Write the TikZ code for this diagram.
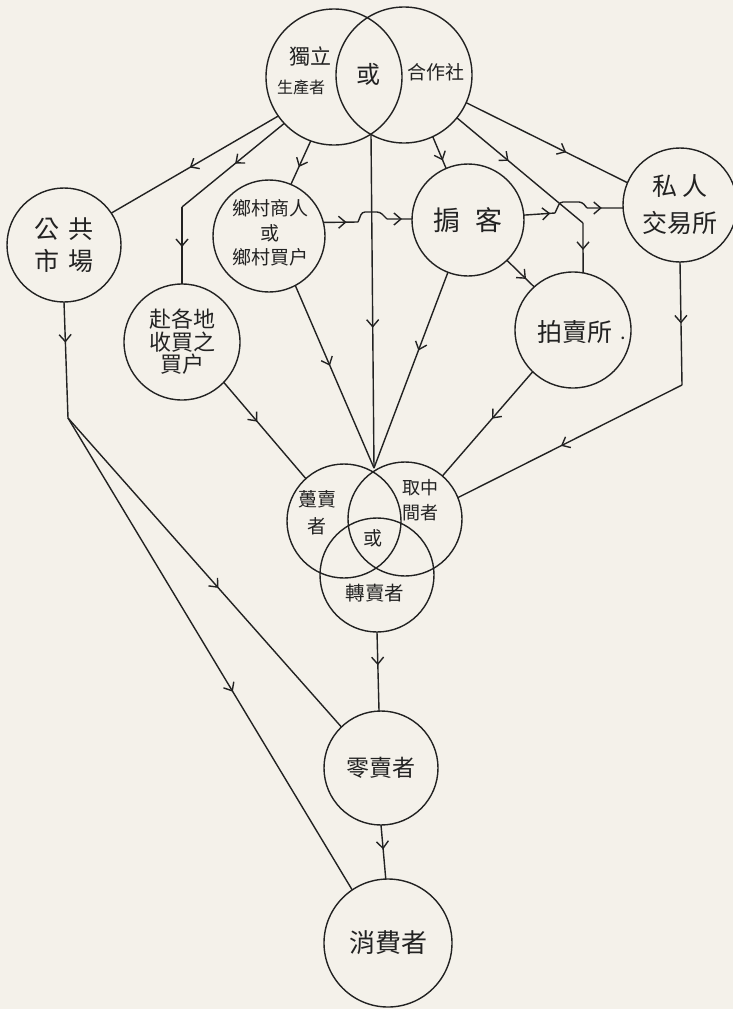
\documentclass[tikz,border=0pt]{standalone}
\usepackage{fontspec}
\newfontfamily\cjk{Noto Sans CJK TC}
\usetikzlibrary{arrows.meta,decorations.markings}
\definecolor{paper}{RGB}{244,241,234}
\definecolor{ink}{RGB}{34,34,34}
\newcommand{\fsz}[2]{\fontsize{#1pt}{#2pt}\selectfont}
\begin{document}
\begin{tikzpicture}[x=1pt,y=-1pt,
  ring/.style={circle,draw=ink,line width=1.4pt,inner sep=0pt,outer sep=0pt,text=ink,align=center},
  lbl/.style={inner sep=0pt,outer sep=0pt,text=ink,align=center},
  conn/.style={draw=ink,line width=1.4pt},
  midarrow/.style={postaction={decorate,decoration={markings,
      mark=at position #1 with {\arrow{Straight Barb[length=7pt,width=12pt]}}}}}]
\fill[paper] (0,0) rectangle (733,1009);
\useasboundingbox (0,0) rectangle (733,1009);
% circles
\node[ring,minimum size=136pt] (dl) at (334,77) {};
\node[ring,minimum size=136pt] (hz) at (404,75) {};
\node[ring,minimum size=114pt,font=\cjk\fsz{25}{32}] (gg) at (64,245) {公\hspace{9pt}共\\市\hspace{9pt}場};
\node[ring,minimum size=116pt,font=\cjk\fsz{22}{22.5}] (fg) at (182,342) {赴各地\\收買之\\買户};
\node[ring,minimum size=112pt] (xc) at (269,236) {};
\node[ring,minimum size=112pt,font=\cjk\fsz{27}{30}] (qk) at (468,220) {掮\hspace{16pt}客};
\node[ring,minimum size=114pt,font=\cjk\fsz{25}{37}] (sr) at (680,205) {私\hspace{5pt}人\\交易所};
\node[ring,minimum size=116pt] (pm) at (573,330) {};
\node[ring,minimum size=114pt] (dm) at (344,521) {};
\node[ring,minimum size=114pt] (qz) at (405,519) {};
\node[ring,minimum size=114pt] (zm) at (377,575) {};
\node[ring,minimum size=114pt,font=\cjk\fsz{23}{26}] (lm) at (381,768) {零賣者};
\node[ring,minimum size=128pt,font=\cjk\fsz{26}{28}] (xf) at (388,943) {消費者};
% texts
\node[lbl,font=\cjk\fsz{21}{24}] (t1) at (310,56) {獨立};
\node[lbl,font=\cjk\fsz{16}{18}] (t2) at (301,87) {生產者};
\node[lbl,font=\cjk\fsz{24}{26}] (t3) at (368,74) {或};
\node[lbl,font=\cjk\fsz{19}{21}] (t4) at (436,72) {合作社};
\node[lbl,font=\cjk\fsz{19}{24.5}] (t5) at (270,233) {鄉村商人\\或\\鄉村買户};
\node[lbl,font=\cjk\fsz{25}{28}] (t6) at (575,332) {拍賣所};
\node[lbl,font=\cjk\fsz{20}{22}] (t7) at (623,338) {.};
\node[lbl,font=\cjk\fsz{19}{27}] (t8) at (317,513) {躉賣\\者};
\node[lbl,font=\cjk\fsz{18}{25}] (t9) at (420,500) {取中\\間者};
\node[lbl,font=\cjk\fsz{19}{21}] (t10) at (373,538) {或};
\node[lbl,font=\cjk\fsz{19.5}{22}] (t11) at (375,593) {轉賣者};
% coordinates
\coordinate (b1) at (182,207);
\coordinate (b2) at (583,223);
\coordinate (b3) at (682,385);
\coordinate (lbot) at (371,134);
\coordinate (ctop) at (374,468);
\coordinate (j1) at (68,418);
\coordinate (h1a) at (358,222);
\coordinate (h1b) at (387,219);
\coordinate (h2a) at (555,213);
\coordinate (h2b) at (587,208);
% connectors from the top
\draw[conn,midarrow=0.53] (dl.215) -- (gg.34);
\draw[conn,midarrow=0.48] (dl.223) -- (b1);
\draw[conn,midarrow=0.52] (b1) -- (fg.90);
\draw[conn,midarrow=0.6] (dl.250) -- (xc.67);
\draw[conn,midarrow=0.58] (lbot) -- (ctop);
\draw[conn,midarrow=0.75] (hz.295) -- (qk.113);
\draw[conn,midarrow=0.41] (hz.321) -- (b2);
\draw[conn,midarrow=0.54] (b2) -- (pm.80);
\draw[conn,midarrow=0.62] (hz.336) -- (sr.157);
% hops
\draw[conn,midarrow=0.67] (xc.14) -- (h1a);
\draw[conn,rounded corners=3pt] (h1a) -- (362,212) -- (380,212) -- (h1b);
\draw[conn,midarrow=0.6] (h1b) -- (qk.179);
\draw[conn,midarrow=0.85] (qk.5) -- (h2a);
\draw[conn,rounded corners=3pt] (h2a) -- (560,202) -- (582,202) -- (h2b);
\draw[conn,midarrow=0.41] (h2b) -- (sr.183);
% middle
\draw[conn,midarrow=0.7] (qk.314) -- (pm.132);
\draw[conn,midarrow=0.40] (qk.249) -- (ctop);
\draw[conn,midarrow=0.44] (xc.298) -- (ctop);
\draw[conn,midarrow=0.41] (fg.316) -- (dm.132);
\draw[conn,midarrow=0.45] (pm.226) -- (qz.49);
\draw[conn,midarrow=0.5] (sr.270) -- (b3);
\draw[conn,midarrow=0.54] (b3) -- (qz.22);
% lower
\draw[conn,midarrow=0.35] (gg.270) -- (j1);
\draw[conn,midarrow=0.55] (j1) -- (lm.134);
\draw[conn,midarrow=0.58] (j1) -- (xf.124);
\draw[conn,midarrow=0.42] (zm.270) -- (lm.92);
\draw[conn,midarrow=0.45] (lm.270) -- (xf.92);
\end{tikzpicture}
\end{document}
